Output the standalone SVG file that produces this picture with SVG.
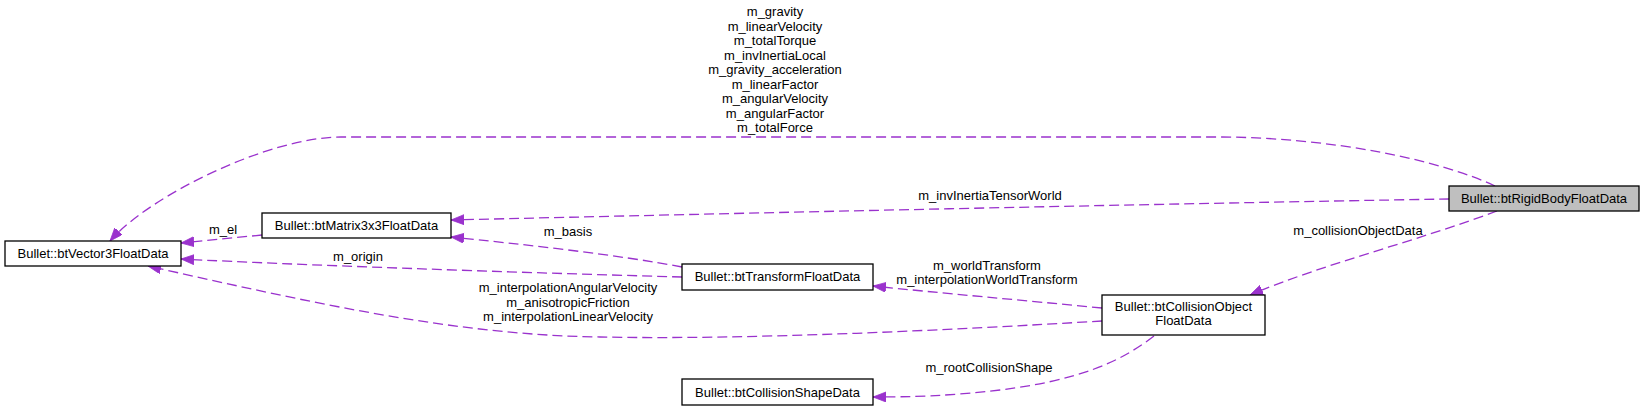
<svg xmlns="http://www.w3.org/2000/svg" width="1645" height="411" viewBox="0 0 1645 411">
<style>
text{font-family:"Liberation Sans",Arial,sans-serif;font-size:13px;fill:#000;text-anchor:middle}
.node rect{fill:#fff;stroke:#000;stroke-width:1.3}
.root rect{fill:#bfbfbf}
.edge{fill:none;stroke:#9a32cd;stroke-width:1.3;stroke-dasharray:10,5;marker-end:url(#ah)}
</style>
<defs>
<marker id="ah" markerUnits="userSpaceOnUse" markerWidth="14" markerHeight="11" refX="13" refY="5" orient="auto">
<path d="M0,0 L13,5 L0,10 z" fill="#9a32cd" stroke="#9a32cd" stroke-width="0.8"/>
</marker>
</defs>
<rect width="1645" height="411" fill="#fff"/>
<g id="connectors">
<path class="edge" d="M1495,186 C1440,160 1330,137 1217,137 L341,137 C270,137 150,195 110,241"/>
<path class="edge" d="M1449,199 C1150,204 750,213 451,220"/>
<path class="edge" d="M262,235 L181,243"/>
<path class="edge" d="M682,267 C620,255 520,244 451,237"/>
<path class="edge" d="M682,277 C500,272 300,265 181,259"/>
<path class="edge" d="M1102,308 C1020,300 940,293 873,286"/>
<path class="edge" d="M1102,321 C950,330 750,340 600,337 C450,335 300,300 148,266"/>
<path class="edge" d="M1154,336 C1120,362 1080,380 1000,390 C950,396 910,397 873,397"/>
<path class="edge" d="M1497,211 C1420,240 1320,265 1250,295"/>
</g>
<g id="edge-labels">
<text x="775" y="16">m_gravity</text>
<text x="775" y="30.5">m_linearVelocity</text>
<text x="775" y="45">m_totalTorque</text>
<text x="775" y="59.5">m_invInertiaLocal</text>
<text x="775" y="74">m_gravity_acceleration</text>
<text x="775" y="88.5">m_linearFactor</text>
<text x="775" y="103">m_angularVelocity</text>
<text x="775" y="117.5">m_angularFactor</text>
<text x="775" y="132">m_totalForce</text>
<text x="990" y="200">m_invInertiaTensorWorld</text>
<text x="223" y="234">m_el</text>
<text x="568" y="236">m_basis</text>
<text x="358" y="261">m_origin</text>
<text x="987" y="269.5">m_worldTransform</text>
<text x="987" y="284">m_interpolationWorldTransform</text>
<text x="568" y="292">m_interpolationAngularVelocity</text>
<text x="568" y="306.5">m_anisotropicFriction</text>
<text x="568" y="321">m_interpolationLinearVelocity</text>
<text x="989" y="372">m_rootCollisionShape</text>
<text x="1358" y="235">m_collisionObjectData</text>
</g>
<g id="btRigidBodyFloatData" class="node root">
<rect x="1449" y="186" width="190" height="25"/>
<text x="1544" y="203">Bullet::btRigidBodyFloatData</text>
</g>
<g id="btVector3FloatData" class="node">
<rect x="5" y="241" width="176" height="25"/>
<text x="93" y="258">Bullet::btVector3FloatData</text>
</g>
<g id="btMatrix3x3FloatData" class="node">
<rect x="262" y="213" width="189" height="25"/>
<text x="356.5" y="230">Bullet::btMatrix3x3FloatData</text>
</g>
<g id="btTransformFloatData" class="node">
<rect x="682" y="264" width="191" height="26"/>
<text x="777.5" y="281">Bullet::btTransformFloatData</text>
</g>
<g id="btCollisionObjectFloatData" class="node">
<rect x="1102" y="295" width="163" height="40"/>
<text x="1183.5" y="311">Bullet::btCollisionObject</text>
<text x="1183.5" y="325">FloatData</text>
</g>
<g id="btCollisionShapeData" class="node">
<rect x="682" y="379" width="191" height="26"/>
<text x="777.5" y="396.5">Bullet::btCollisionShapeData</text>
</g>
</svg>
